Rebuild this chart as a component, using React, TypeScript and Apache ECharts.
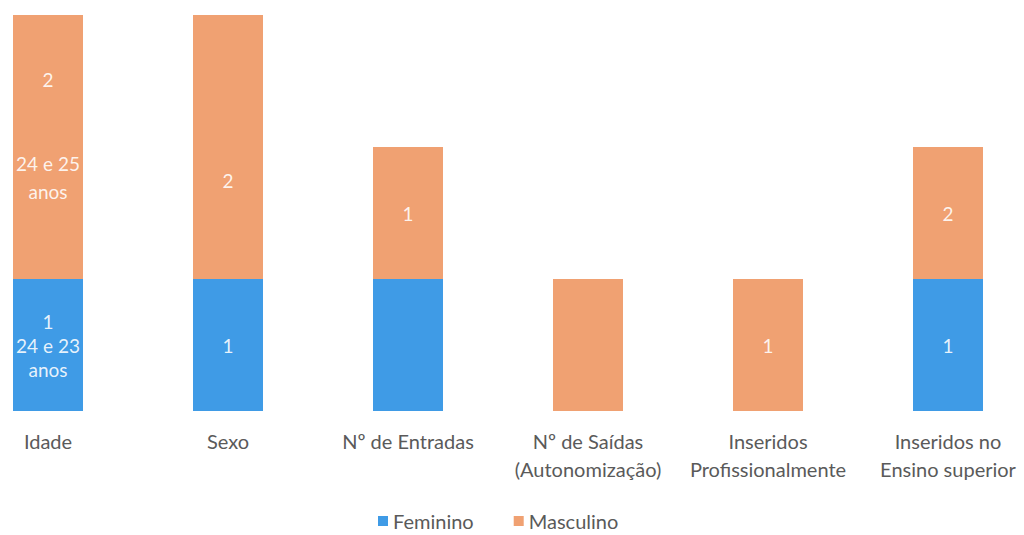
import React, { useEffect, useRef } from "react";
import * as echarts from "echarts";

const categories = [
  "Idade",
  "Sexo",
  "Nº de Entradas",
  "Nº de Saídas\n(Autonomização)",
  "Inseridos\nProfissionalmente",
  "Inseridos no\nEnsino superior",
];
const feminino = [1, 1, 1, 0, 0, 1];
const masculino = [2, 2, 1, 1, 1, 1];
const femininoLabels = ["1\n24 e 23\nanos", "1", "", "", "", "1"];
const masculinoLabels = ["2\n\n\n24 e 25\nanos", "2", "1", "", "1", "2"];

const FONT = "Lato, 'Noto Sans', sans-serif";
const TEXT = "#5a5a5a";
const BLUE = "#3f9be6";
const ORANGE = "#f0a172";

// vertical nudges for individual masculino labels (px)
const masculinoLabelShift: Record<number, number> = { 0: -12, 1: 33 };

export default function App() {
  const ref = useRef<HTMLDivElement>(null);

  useEffect(() => {
    document.body.style.margin = "0";
    const chart = echarts.init(ref.current!, null, { renderer: "svg" });
    const labelBase = {
      show: true,
      position: "inside" as const,
      color: "rgba(255,255,255,0.88)",
      fontFamily: FONT,
      fontSize: 19,
    };
    chart.setOption({
      animation: false,
      backgroundColor: "#ffffff",
      grid: { left: 0, right: 0, top: 15, bottom: 124, containLabel: false },
      xAxis: {
        type: "category",
        data: categories,
        axisLine: { show: false },
        axisTick: { show: false },
        axisLabel: {
          interval: 0,
          color: TEXT,
          fontFamily: FONT,
          fontSize: 20,
          lineHeight: 28,
          margin: 16,
        },
      },
      yAxis: {
        type: "value",
        min: 0,
        max: 3,
        interval: 1,
        show: false,
        splitLine: { show: false },
      },
      legend: {
        top: 510,
        left: 420,
        padding: 0,
        itemWidth: 10,
        itemHeight: 10,
        itemGap: 40,
        icon: "rect",
        textStyle: { color: TEXT, fontFamily: FONT, fontSize: 20, lineHeight: 22 },
        data: ["Feminino", "Masculino"],
      },
      series: [
        {
          name: "Feminino",
          type: "bar",
          stack: "total",
          barWidth: 70,
          data: feminino,
          itemStyle: { color: BLUE },
          label: {
            ...labelBase,
            lineHeight: 24,
            formatter: (p: any) => femininoLabels[p.dataIndex],
          },
        },
        {
          name: "Masculino",
          type: "bar",
          stack: "total",
          barWidth: 70,
          data: masculino.map((v, i) => ({
            value: v,
            label: { offset: [0, masculinoLabelShift[i] ?? 0] },
          })),
          itemStyle: { color: ORANGE },
          label: {
            ...labelBase,
            lineHeight: 28,
            formatter: (p: any) => masculinoLabels[p.dataIndex],
          },
        },
      ],
    });
    return () => chart.dispose();
  }, []);

  return (
    <div style={{ width: 1024, height: 535, overflow: "hidden", position: "relative" }}>
      <div ref={ref} style={{ position: "absolute", left: -42, top: 0, width: 1080, height: 535 }} />
    </div>
  );
}
